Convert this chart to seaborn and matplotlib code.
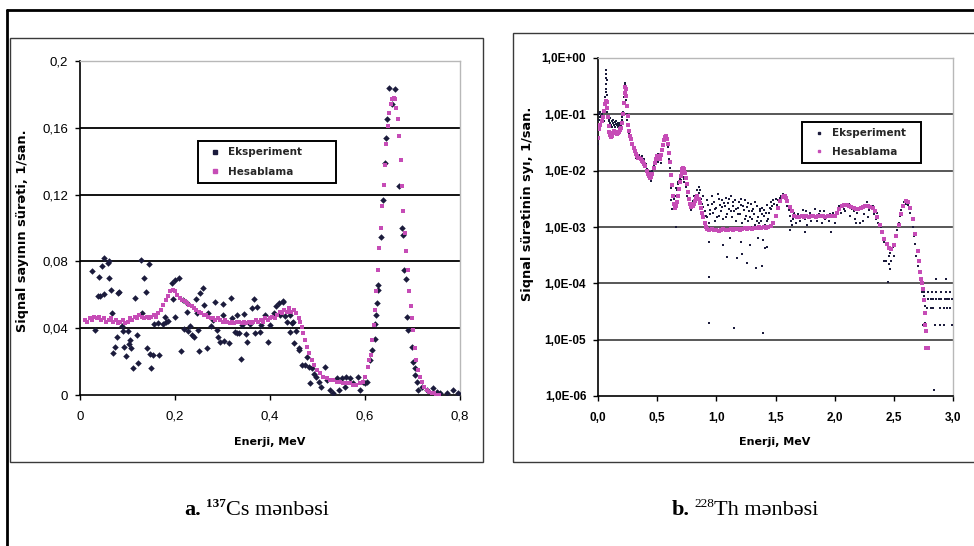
import matplotlib
matplotlib.use("Agg")
import matplotlib.pyplot as plt
import pandas as pd
import seaborn as sns
from matplotlib.lines import Line2D
from matplotlib.patches import Rectangle
from matplotlib.ticker import FixedFormatter, FixedLocator, NullLocator

sns.set_theme(style="white")
plt.rcParams["font.family"] = ["Liberation Sans", "DejaVu Sans"]

W, H = 974, 546
EXP_COLOR = "#1b1b3c"
CALC_COLOR = "#c64cb6"

# ---------------- a. Cs-137 (linear) ----------------
cs_exp = [
    (0.025, 0.0745), (0.032, 0.039), (0.037, 0.059), (0.039, 0.0705), (0.042, 0.0595),
    (0.046, 0.0774), (0.051, 0.0818), (0.051, 0.0603), (0.058, 0.0792), (0.060, 0.0699),
    (0.061, 0.080), (0.065, 0.0629), (0.067, 0.0493), (0.069, 0.025), (0.074, 0.029),
    (0.077, 0.035), (0.081, 0.061), (0.083, 0.0619), (0.088, 0.0413), (0.090, 0.0385),
    (0.093, 0.0287), (0.097, 0.0234), (0.100, 0.0385), (0.104, 0.0305), (0.106, 0.033),
    (0.107, 0.028), (0.112, 0.016), (0.116, 0.058), (0.121, 0.0359), (0.122, 0.0192),
    (0.128, 0.0808), (0.131, 0.0493), (0.135, 0.0699), (0.139, 0.0615), (0.142, 0.028),
    (0.145, 0.0784), (0.147, 0.0245), (0.149, 0.016), (0.154, 0.024), (0.156, 0.0425),
    (0.165, 0.0433), (0.167, 0.024), (0.175, 0.0425), (0.179, 0.0465), (0.181, 0.0439),
    (0.186, 0.0445), (0.193, 0.0669), (0.196, 0.0575), (0.200, 0.0689), (0.200, 0.0469),
    (0.209, 0.0699), (0.213, 0.0265), (0.216, 0.057), (0.219, 0.0395), (0.225, 0.0495),
    (0.225, 0.0553), (0.227, 0.0383), (0.232, 0.0413), (0.235, 0.0359), (0.240, 0.0349),
    (0.244, 0.0575), (0.246, 0.0493), (0.249, 0.0389), (0.251, 0.0265), (0.253, 0.0609),
    (0.258, 0.0639), (0.262, 0.0539), (0.267, 0.0279), (0.269, 0.0489), (0.275, 0.0413),
    (0.281, 0.0449), (0.284, 0.0559), (0.288, 0.0389), (0.291, 0.0349), (0.295, 0.0319),
    (0.300, 0.0543), (0.302, 0.0479), (0.304, 0.0325), (0.314, 0.0309), (0.317, 0.0583),
    (0.321, 0.0459), (0.326, 0.0375), (0.330, 0.0479), (0.331, 0.0369), (0.335, 0.0369),
    (0.338, 0.0216), (0.342, 0.0419), (0.345, 0.0485), (0.349, 0.0365), (0.352, 0.0319),
    (0.358, 0.0423), (0.363, 0.0519), (0.366, 0.0575), (0.368, 0.0373), (0.372, 0.0529),
    (0.378, 0.0379), (0.380, 0.0419), (0.389, 0.0479), (0.395, 0.0319), (0.400, 0.0419),
    (0.408, 0.0489), (0.413, 0.0533), (0.418, 0.0549), (0.422, 0.0479), (0.427, 0.0559),
    (0.428, 0.0565), (0.432, 0.0473), (0.436, 0.0439), (0.442, 0.0379), (0.442, 0.048),
    (0.446, 0.0433), (0.448, 0.0439), (0.451, 0.0309), (0.455, 0.0385), (0.460, 0.0279),
    (0.462, 0.027), (0.467, 0.018), (0.474, 0.018), (0.477, 0.0226), (0.483, 0.017),
    (0.484, 0.0074), (0.488, 0.016), (0.493, 0.0126), (0.497, 0.0106), (0.504, 0.008),
    (0.507, 0.0046), (0.516, 0.0166), (0.519, 0.009), (0.526, 0.003), (0.533, 0.001),
    (0.540, 0.010), (0.546, 0.003), (0.551, 0.010), (0.558, 0.005), (0.561, 0.0106),
    (0.568, 0.010), (0.575, 0.007), (0.586, 0.011), (0.589, 0.003), (0.595, 0.008),
    (0.600, 0.007), (0.605, 0.008), (0.611, 0.021), (0.614, 0.027), (0.620, 0.0333),
    (0.620, 0.0425), (0.623, 0.048), (0.625, 0.0553), (0.628, 0.0629), (0.628, 0.0659),
    (0.634, 0.0944), (0.637, 0.117), (0.642, 0.139), (0.644, 0.154), (0.647, 0.165),
    (0.651, 0.184), (0.657, 0.174), (0.663, 0.183), (0.672, 0.125), (0.677, 0.100),
    (0.681, 0.096), (0.682, 0.0749), (0.686, 0.0693), (0.689, 0.0469), (0.691, 0.0389),
    (0.698, 0.0289), (0.702, 0.020), (0.705, 0.016), (0.705, 0.012), (0.709, 0.008),
    (0.712, 0.003), (0.719, 0.005), (0.730, 0.003), (0.744, 0.004), (0.751, 0.002),
    (0.758, 0.001), (0.772, 0.0014), (0.786, 0.003), (0.796, 0.001),
]

cs_calc = [
    (0.010, 0.045), (0.015, 0.044), (0.020, 0.046), (0.025, 0.045), (0.030, 0.047),
    (0.035, 0.046), (0.040, 0.047), (0.045, 0.045), (0.050, 0.046), (0.055, 0.044),
    (0.060, 0.045), (0.065, 0.046), (0.070, 0.044), (0.075, 0.045), (0.080, 0.043),
    (0.085, 0.044), (0.090, 0.045), (0.095, 0.043), (0.100, 0.044), (0.105, 0.046),
    (0.110, 0.045), (0.115, 0.047), (0.120, 0.046), (0.125, 0.048), (0.130, 0.047),
    (0.135, 0.046), (0.140, 0.047), (0.145, 0.046), (0.150, 0.047), (0.155, 0.048),
    (0.160, 0.047), (0.165, 0.049), (0.170, 0.051), (0.175, 0.054), (0.180, 0.057),
    (0.185, 0.059), (0.190, 0.062), (0.195, 0.063), (0.200, 0.062), (0.205, 0.060),
    (0.210, 0.058), (0.215, 0.057), (0.220, 0.056), (0.225, 0.055), (0.230, 0.054),
    (0.235, 0.053), (0.240, 0.052), (0.245, 0.051), (0.250, 0.050), (0.255, 0.049),
    (0.260, 0.048), (0.265, 0.048), (0.270, 0.047), (0.275, 0.046), (0.280, 0.046),
    (0.285, 0.045), (0.290, 0.046), (0.295, 0.045), (0.300, 0.044), (0.305, 0.045),
    (0.310, 0.044), (0.315, 0.043), (0.320, 0.044), (0.325, 0.043), (0.330, 0.044),
    (0.335, 0.044), (0.340, 0.043), (0.345, 0.044), (0.350, 0.043), (0.355, 0.044),
    (0.360, 0.043), (0.365, 0.044), (0.370, 0.045), (0.375, 0.044), (0.380, 0.045),
    (0.385, 0.044), (0.390, 0.046), (0.395, 0.045), (0.400, 0.046), (0.405, 0.047),
    (0.410, 0.046), (0.415, 0.048), (0.420, 0.050), (0.425, 0.049), (0.430, 0.051),
    (0.435, 0.050), (0.440, 0.052), (0.445, 0.050), (0.450, 0.051), (0.455, 0.049),
    (0.460, 0.046), (0.463, 0.044), (0.467, 0.041), (0.470, 0.037), (0.474, 0.033),
    (0.477, 0.029), (0.482, 0.025), (0.488, 0.021), (0.493, 0.018), (0.498, 0.015),
    (0.505, 0.013), (0.512, 0.011), (0.519, 0.010), (0.526, 0.009), (0.533, 0.009),
    (0.540, 0.008), (0.547, 0.008), (0.554, 0.007), (0.561, 0.007), (0.568, 0.007),
    (0.575, 0.006), (0.582, 0.006), (0.589, 0.007), (0.596, 0.008), (0.601, 0.011),
    (0.606, 0.017), (0.609, 0.021), (0.612, 0.024), (0.615, 0.033), (0.618, 0.042),
    (0.621, 0.051), (0.624, 0.062), (0.627, 0.075), (0.630, 0.088), (0.633, 0.100),
    (0.636, 0.113), (0.639, 0.126), (0.642, 0.138), (0.645, 0.150), (0.648, 0.161),
    (0.651, 0.169), (0.654, 0.174), (0.657, 0.177), (0.660, 0.178), (0.663, 0.177),
    (0.666, 0.172), (0.669, 0.165), (0.672, 0.155), (0.675, 0.141), (0.678, 0.125),
    (0.681, 0.110), (0.684, 0.097), (0.687, 0.086), (0.690, 0.075), (0.693, 0.062),
    (0.696, 0.053), (0.699, 0.046), (0.702, 0.039), (0.705, 0.028), (0.708, 0.021),
    (0.712, 0.015), (0.716, 0.011), (0.720, 0.008), (0.725, 0.005), (0.730, 0.003),
    (0.735, 0.002), (0.740, 0.001), (0.745, 0.001), (0.750, 0.000), (0.755, 0.000),
]

cs_xticks = [0, 0.2, 0.4, 0.6, 0.8]
cs_xlabels = ["0", "0,2", "0,4", "0,6", "0,8"]
cs_yticks = [0, 0.04, 0.08, 0.12, 0.16, 0.2]
cs_ylabels = ["0", "0,04", "0,08", "0,12", "0,16", "0,2"]
cs_grid = [0.04, 0.08, 0.12, 0.16]

# ---------------- b. Th-228 (log) ----------------
th_exp_low = [
    (0.000, 0.030), (0.005, 0.080), (0.010, 0.100), (0.015, 0.090), (0.020, 0.110),
    (0.025, 0.095), (0.030, 0.085), (0.035, 0.100), (0.040, 0.080), (0.045, 0.090),
    (0.050, 0.075), (0.055, 0.120), (0.060, 0.200), (0.064, 0.280), (0.066, 0.450),
    (0.068, 0.600), (0.068, 0.350), (0.070, 0.520), (0.070, 0.250), (0.072, 0.400),
    (0.074, 0.220), (0.076, 0.160), (0.078, 0.130), (0.080, 0.110), (0.085, 0.090),
    (0.090, 0.075), (0.095, 0.080), (0.100, 0.070), (0.105, 0.085), (0.110, 0.065),
    (0.115, 0.075), (0.120, 0.060), (0.125, 0.070), (0.130, 0.080), (0.135, 0.065),
    (0.140, 0.072), (0.145, 0.060), (0.150, 0.068), (0.155, 0.075), (0.160, 0.065),
    (0.165, 0.070), (0.170, 0.060), (0.175, 0.065), (0.180, 0.070), (0.185, 0.062),
    (0.190, 0.070), (0.195, 0.065), (0.200, 0.080), (0.205, 0.090), (0.210, 0.110),
    (0.215, 0.150), (0.220, 0.200), (0.224, 0.260), (0.226, 0.330), (0.228, 0.360),
    (0.230, 0.300), (0.232, 0.240), (0.235, 0.180), (0.238, 0.140), (0.242, 0.100),
    (0.245, 0.080), (0.250, 0.062), (0.255, 0.052), (0.260, 0.046), (0.265, 0.042),
]

th_exp_mid = [
    (0.270, 0.040), (0.280, 0.036), (0.285, 0.030), (0.290, 0.031), (0.300, 0.025),
    (0.305, 0.022), (0.310, 0.021), (0.320, 0.019), (0.325, 0.017), (0.330, 0.020),
    (0.340, 0.016), (0.345, 0.018), (0.350, 0.019), (0.360, 0.015), (0.365, 0.017),
    (0.370, 0.018), (0.380, 0.013), (0.385, 0.016), (0.390, 0.015), (0.400, 0.012),
    (0.405, 0.013), (0.410, 0.0105), (0.420, 0.0085), (0.425, 0.009), (0.430, 0.0075),
    (0.440, 0.0095), (0.445, 0.0065), (0.450, 0.0072), (0.460, 0.0100), (0.470, 0.0120),
    (0.475, 0.0110), (0.480, 0.0150), (0.490, 0.0175), (0.500, 0.0160), (0.505, 0.0140),
    (0.510, 0.0200), (0.520, 0.0170), (0.530, 0.0135), (0.540, 0.0220), (0.550, 0.0300),
    (0.560, 0.0360), (0.570, 0.0390), (0.580, 0.0360), (0.590, 0.0260), (0.600, 0.0160),
    (0.605, 0.0110), (0.610, 0.0080), (0.615, 0.0050), (0.620, 0.0030), (0.625, 0.0021),
    (0.630, 0.0026), (0.640, 0.0031), (0.650, 0.0036), (0.655, 0.0010), (0.660, 0.0050),
    (0.670, 0.0046), (0.675, 0.0058), (0.680, 0.0062), (0.690, 0.0072), (0.695, 0.0060),
    (0.700, 0.0068), (0.710, 0.0082), (0.720, 0.0078), (0.725, 0.0070), (0.730, 0.0062),
    (0.740, 0.0052), (0.750, 0.0041), (0.755, 0.0035), (0.760, 0.0031), (0.770, 0.0026),
    (0.780, 0.0031), (0.785, 0.0022), (0.790, 0.0020), (0.800, 0.0029), (0.810, 0.0036),
    (0.815, 0.0027), (0.820, 0.0025), (0.830, 0.0031), (0.840, 0.0046), (0.850, 0.0052),
    (0.855, 0.0040), (0.860, 0.0046), (0.870, 0.0031), (0.880, 0.0026), (0.885, 0.0035),
    (0.890, 0.0023), (0.900, 0.0019), (0.910, 0.0016),
]

th_exp_plateau = [
    (0.920, 0.0015), (0.925, 0.0030), (0.930, 0.0025), (0.940, 0.0012), (0.945, 0.0017),
    (0.950, 0.0020), (0.960, 0.0035), (0.965, 0.0026), (0.970, 0.0018), (0.980, 0.0028),
    (0.985, 0.0021), (0.990, 0.0013), (1.000, 0.0022), (1.005, 0.0015), (1.010, 0.0038),
    (1.020, 0.0016), (1.025, 0.0031), (1.030, 0.0025), (1.040, 0.0019), (1.045, 0.0023),
    (1.050, 0.0030), (1.060, 0.0014), (1.065, 0.0027), (1.070, 0.0024), (1.080, 0.0033),
    (1.085, 0.0015), (1.090, 0.0017), (1.100, 0.0027), (1.105, 0.0032), (1.110, 0.0021),
    (1.120, 0.0036), (1.125, 0.0019), (1.130, 0.0015), (1.140, 0.0024), (1.145, 0.0028),
    (1.150, 0.0019), (1.160, 0.0030), (1.165, 0.0021), (1.170, 0.0013), (1.180, 0.0022),
    (1.185, 0.0017), (1.190, 0.0028), (1.200, 0.0017), (1.205, 0.0031), (1.210, 0.0025),
    (1.220, 0.0012), (1.225, 0.0024), (1.230, 0.0020), (1.240, 0.0030), (1.245, 0.0014),
    (1.250, 0.0016), (1.260, 0.0023), (1.265, 0.0027), (1.270, 0.0013), (1.280, 0.0019),
    (1.285, 0.0015), (1.290, 0.0026), (1.300, 0.0014), (1.305, 0.0019), (1.310, 0.0021),
    (1.320, 0.0017), (1.325, 0.0028), (1.330, 0.0011), (1.340, 0.0024), (1.345, 0.0013),
    (1.350, 0.0015), (1.360, 0.0012), (1.365, 0.0021), (1.370, 0.0019), (1.380, 0.0013),
    (1.385, 0.0017), (1.390, 0.0022), (1.400, 0.0016), (1.405, 0.0020), (1.410, 0.0011),
    (1.420, 0.0018), (1.425, 0.0013), (1.430, 0.0025), (1.440, 0.0014), (1.445, 0.0018),
    (1.450, 0.0022), (1.460, 0.0028), (1.465, 0.0021), (1.470, 0.0024), (1.480, 0.0030),
    (1.490, 0.0026), (1.500, 0.0032),
    (0.941, 0.00055), (1.059, 0.00047), (1.088, 0.00029), (1.115, 0.00063), (1.172, 0.00028),
    (1.206, 0.00055), (1.214, 0.00033), (1.262, 0.00023), (1.284, 0.00048), (1.335, 0.00019),
    (1.350, 0.00065), (1.383, 0.00020), (1.397, 0.00059), (1.411, 0.00043), (1.425, 0.00044),
    (0.941, 0.000129), (0.941, 0.0000195), (1.149, 0.000016), (1.392, 0.000013),
]

th_exp_high = [
    (1.510, 0.0025), (1.520, 0.0030), (1.530, 0.0028), (1.540, 0.0033), (1.550, 0.0035),
    (1.560, 0.0038), (1.570, 0.0036), (1.580, 0.0032), (1.590, 0.0028), (1.600, 0.0024),
    (1.610, 0.0020), (1.620, 0.0016), (1.620, 0.0009), (1.630, 0.0013), (1.640, 0.0011),
    (1.650, 0.0014), (1.660, 0.0018), (1.670, 0.0012), (1.680, 0.0015), (1.690, 0.0017),
    (1.710, 0.0013), (1.720, 0.0016), (1.730, 0.0020), (1.750, 0.0014), (1.750, 0.0008),
    (1.760, 0.0019), (1.770, 0.0011), (1.790, 0.0018), (1.800, 0.0013), (1.810, 0.0015),
    (1.830, 0.0021), (1.840, 0.0016), (1.850, 0.0013), (1.870, 0.0017), (1.880, 0.0019),
    (1.890, 0.0012), (1.910, 0.0019), (1.920, 0.0014), (1.930, 0.0016), (1.950, 0.0013),
    (1.960, 0.0017), (1.970, 0.0008), (1.990, 0.0018), (2.000, 0.0012), (2.010, 0.0015),
    (2.030, 0.0021), (2.040, 0.0024), (2.050, 0.0018), (2.070, 0.0025), (2.080, 0.0021),
    (2.090, 0.0019), (2.110, 0.0023), (2.120, 0.0026), (2.130, 0.0016), (2.150, 0.0021),
    (2.160, 0.0019), (2.170, 0.0014), (2.180, 0.0012), (2.190, 0.0018), (2.200, 0.0022),
    (2.210, 0.0012), (2.230, 0.0024), (2.240, 0.0013), (2.250, 0.0017), (2.270, 0.0028),
    (2.280, 0.0015), (2.290, 0.0020), (2.310, 0.0022), (2.320, 0.0024), (2.330, 0.0017),
    (2.350, 0.0014), (2.360, 0.0018), (2.370, 0.0012), (2.390, 0.0010),
    (2.400, 0.0008), (2.410, 0.00065), (2.420, 0.00055), (2.420, 0.00025), (2.430, 0.00025),
    (2.440, 0.0005), (2.450, 0.0004), (2.450, 0.000107), (2.460, 0.0003), (2.460, 0.00022),
    (2.470, 0.00035), (2.470, 0.00018), (2.480, 0.00025), (2.490, 0.00045), (2.500, 0.0003),
    (2.510, 0.0005), (2.520, 0.0007), (2.530, 0.0009), (2.540, 0.0012), (2.550, 0.0016),
    (2.560, 0.0020), (2.570, 0.0023), (2.580, 0.0025), (2.590, 0.0028), (2.600, 0.0026),
    (2.610, 0.0029), (2.620, 0.0025), (2.630, 0.0022), (2.640, 0.0018), (2.650, 0.0014),
    (2.660, 0.0010), (2.670, 0.0007), (2.680, 0.0005), (2.690, 0.0003), (2.700, 0.0002),
    (2.710, 0.00015), (2.720, 0.00012), (2.730, 0.0001), (2.740, 0.00008),
]

th_exp_tail = [
    (2.750, 0.00008), (2.755, 0.00006), (2.760, 0.00004), (2.760, 0.00002), (2.765, 0.000015),
    (2.735, 0.000069), (2.757, 0.000069), (2.790, 0.000069), (2.826, 0.000069), (2.854, 0.000069),
    (2.900, 0.000069), (2.940, 0.000069), (2.975, 0.000069),
    (2.765, 0.000052), (2.790, 0.000052), (2.810, 0.000052), (2.830, 0.000052), (2.860, 0.000052),
    (2.880, 0.000052), (2.900, 0.000052), (2.930, 0.000052), (2.950, 0.000052), (2.970, 0.000052),
    (2.990, 0.000052),
    (2.780, 0.000036), (2.810, 0.000036), (2.835, 0.000036), (2.890, 0.000036), (2.920, 0.000036),
    (2.950, 0.000036), (2.975, 0.000036),
    (2.750, 0.000018), (2.770, 0.000018), (2.850, 0.000018), (2.890, 0.000018), (2.920, 0.000018),
    (2.990, 0.000018),
    (2.860, 0.000118), (2.940, 0.000118), (2.840, 0.0000013),
]

th_calc = [
    (0.000, 0.038), (0.010, 0.055), (0.020, 0.065), (0.030, 0.075), (0.040, 0.090),
    (0.050, 0.115), (0.058, 0.155), (0.065, 0.175), (0.072, 0.165), (0.078, 0.130),
    (0.084, 0.090), (0.090, 0.062), (0.096, 0.048), (0.102, 0.043), (0.110, 0.040),
    (0.118, 0.042), (0.126, 0.046), (0.134, 0.050), (0.142, 0.049), (0.150, 0.046),
    (0.158, 0.044), (0.166, 0.046), (0.174, 0.049), (0.182, 0.052), (0.190, 0.055),
    (0.198, 0.058), (0.205, 0.070), (0.212, 0.100), (0.218, 0.160), (0.224, 0.240),
    (0.229, 0.300), (0.234, 0.280), (0.239, 0.210), (0.244, 0.140), (0.250, 0.095),
    (0.256, 0.065), (0.262, 0.050), (0.270, 0.042), (0.280, 0.036), (0.290, 0.030),
    (0.300, 0.025), (0.310, 0.022), (0.320, 0.020), (0.330, 0.018), (0.340, 0.017),
    (0.350, 0.017), (0.360, 0.016), (0.370, 0.015), (0.380, 0.014), (0.390, 0.013),
    (0.400, 0.012), (0.410, 0.010), (0.420, 0.0088), (0.430, 0.0080), (0.440, 0.0074),
    (0.450, 0.0076), (0.460, 0.0088), (0.470, 0.011), (0.480, 0.0135), (0.490, 0.016),
    (0.500, 0.018), (0.510, 0.017), (0.520, 0.0158), (0.530, 0.019), (0.540, 0.023),
    (0.550, 0.029), (0.560, 0.035), (0.570, 0.040), (0.578, 0.041), (0.586, 0.037),
    (0.594, 0.030), (0.602, 0.021), (0.610, 0.014), (0.618, 0.0085), (0.626, 0.0055),
    (0.634, 0.0035), (0.642, 0.0026), (0.650, 0.0022), (0.658, 0.0024), (0.666, 0.0028),
    (0.674, 0.0036), (0.682, 0.0048), (0.690, 0.0063), (0.698, 0.0080), (0.706, 0.0096),
    (0.714, 0.0108), (0.722, 0.0112), (0.730, 0.0105), (0.738, 0.0092), (0.746, 0.0075),
    (0.754, 0.0058), (0.762, 0.0042), (0.770, 0.0032), (0.780, 0.0026), (0.790, 0.0023),
    (0.800, 0.0024), (0.810, 0.0026), (0.820, 0.0029), (0.830, 0.0033), (0.840, 0.0035),
    (0.850, 0.0032), (0.860, 0.0027), (0.870, 0.0022), (0.880, 0.0018), (0.890, 0.0015),
    (0.900, 0.0012), (0.910, 0.0010), (0.920, 0.00092), (0.940, 0.00088), (0.960, 0.00091),
    (0.980, 0.00087), (1.000, 0.00090), (1.020, 0.00086), (1.040, 0.00089), (1.060, 0.00092),
    (1.080, 0.00088), (1.100, 0.00090), (1.120, 0.00093), (1.140, 0.00089), (1.160, 0.00091),
    (1.180, 0.00094), (1.200, 0.00090), (1.220, 0.00092), (1.240, 0.00095), (1.260, 0.00093),
    (1.280, 0.00096), (1.300, 0.00094), (1.320, 0.00097), (1.340, 0.00095), (1.360, 0.00098),
    (1.380, 0.00096), (1.400, 0.00099), (1.420, 0.00097), (1.440, 0.00100), (1.460, 0.00105),
    (1.480, 0.0012), (1.500, 0.0016), (1.520, 0.0022), (1.540, 0.0029), (1.560, 0.0034),
    (1.570, 0.0036), (1.580, 0.0036), (1.590, 0.0033), (1.600, 0.0029), (1.620, 0.0023),
    (1.640, 0.0019), (1.660, 0.0016), (1.680, 0.0015), (1.700, 0.0015), (1.720, 0.00155),
    (1.740, 0.0015), (1.760, 0.00158), (1.780, 0.0015), (1.800, 0.00155), (1.820, 0.0016),
    (1.840, 0.0015), (1.860, 0.00156), (1.880, 0.0016), (1.900, 0.00155), (1.920, 0.0015),
    (1.940, 0.00158), (1.960, 0.0016), (1.980, 0.00155), (2.000, 0.0016), (2.020, 0.0018),
    (2.040, 0.0021), (2.060, 0.0024), (2.080, 0.0025), (2.100, 0.0025), (2.120, 0.0024),
    (2.140, 0.0023), (2.160, 0.0022), (2.180, 0.0021), (2.200, 0.0021), (2.220, 0.0022),
    (2.240, 0.0023), (2.260, 0.0024), (2.280, 0.0024), (2.300, 0.0023), (2.320, 0.0022),
    (2.340, 0.0019), (2.360, 0.0015), (2.380, 0.0011), (2.400, 0.00082), (2.420, 0.00062),
    (2.440, 0.00050), (2.460, 0.00042), (2.480, 0.00040), (2.500, 0.00048), (2.520, 0.00070),
    (2.540, 0.0011), (2.560, 0.0017), (2.580, 0.0024), (2.600, 0.0029), (2.620, 0.0028),
    (2.640, 0.0022), (2.660, 0.0014), (2.680, 0.00075), (2.700, 0.00038), (2.710, 0.00025),
    (2.720, 0.00016), (2.730, 0.00012), (2.740, 0.00010), (2.750, 0.00008), (2.755, 0.00005),
    (2.760, 0.00003), (2.765, 0.000018), (2.770, 0.000014), (2.775, 0.0000072), (2.790, 0.0000072),
]

th_xticks = [0, 0.5, 1.0, 1.5, 2.0, 2.5, 3.0]
th_xlabels = ["0,0", "0,5", "1,0", "1,5", "2,0", "2,5", "3,0"]
th_yticks = [1e-6, 1e-5, 1e-4, 1e-3, 1e-2, 1e-1, 1e0]
th_ylabels = ["1,0E-06", "1,0E-05", "1,0E-04", "1,0E-03", "1,0E-02", "1,0E-01", "1,0E+00"]
th_grid = [1e-5, 1e-4, 1e-3, 1e-2, 1e-1]

series_names = ["Eksperiment", "Hesablama"]


def fx(x):
    return x / W


def fy(y):
    return 1 - y / H


def frame(df_pairs):
    return pd.DataFrame(df_pairs, columns=["energy", "rate"])


def style_axes(ax, xticks, xlabels, yticks, ylabels, grid, grid_color, bold):
    for side in ("top", "right"):
        ax.spines[side].set_color("#b8b8b8")
        ax.spines[side].set_linewidth(1)
    for side in ("left", "bottom"):
        ax.spines[side].set_color("black")
        ax.spines[side].set_linewidth(1.2)
    ax.xaxis.set_major_locator(FixedLocator(xticks))
    ax.xaxis.set_major_formatter(FixedFormatter(xlabels))
    ax.yaxis.set_major_locator(FixedLocator(yticks))
    ax.yaxis.set_major_formatter(FixedFormatter(ylabels))
    ax.yaxis.set_minor_locator(NullLocator())
    ax.tick_params(axis="both", which="major", direction="out", length=3.5, width=1,
                   color="black", bottom=True, left=True, labelsize=9.5 if not bold else 8.5,
                   labelcolor="black")
    ax.tick_params(axis="x", pad=8)
    ax.tick_params(axis="y", pad=5)
    for lab in ax.get_xticklabels() + ax.get_yticklabels():
        lab.set_fontweight("bold" if bold else "normal")
    for g in grid:
        ax.axhline(g, color=grid_color, lw=1.3, zorder=0.5)
    ax.set_xlabel("")
    ax.set_ylabel("")
    ax.set_facecolor("white")


def add_legend(ax, x0, y0, width, height, ms, spacing):
    handles = [
        Line2D([], [], ls="none", marker="s", ms=ms, color=EXP_COLOR),
        Line2D([], [], ls="none", marker="s", ms=ms, color=CALC_COLOR),
    ]
    # bbox given as (left, bottom, width, height) in figure fraction
    leg = ax.legend(handles, series_names, loc="upper left",
                    bbox_to_anchor=(fx(x0), fy(y0 + height), width / W, height / H),
                    bbox_transform=ax.figure.transFigure, mode="expand",
                    frameon=True, fancybox=False, framealpha=1, edgecolor="black",
                    prop={"family": "DejaVu Sans", "weight": "bold", "size": 7.5},
                    handlelength=2.0, handletextpad=0.3, borderpad=0.6,
                    labelspacing=spacing, borderaxespad=0)
    leg.get_frame().set_linewidth(1.4)
    return leg


fig = plt.figure(figsize=(W / 100, H / 100), dpi=100)
fig.patch.set_facecolor("white")

# outer frame and panel boxes
fig.add_artist(Line2D([fx(7), fx(7)], [fy(10), fy(546)], color="black", lw=2))
fig.add_artist(Line2D([fx(7), 1.0], [fy(10), fy(10)], color="black", lw=2))
fig.add_artist(Rectangle((fx(10), fy(462)), (483 - 10) / W, (462 - 38) / H,
                         fill=False, ec="#3a3a3a", lw=1))
fig.add_artist(Rectangle((fx(513), fy(462)), (990 - 513) / W, (462 - 33) / H,
                         fill=False, ec="#3a3a3a", lw=1))

# ---- panel a ----
ax1 = fig.add_axes([fx(80), fy(395), 380 / W, 334 / H])
sns.scatterplot(data=frame(cs_exp), x="energy", y="rate", ax=ax1, marker="D", s=11,
                color=EXP_COLOR, linewidth=0, legend=False, zorder=3)
sns.scatterplot(data=frame(cs_calc), x="energy", y="rate", ax=ax1, marker="s", s=9,
                color=CALC_COLOR, linewidth=0, legend=False, zorder=4)
ax1.set_xlim(0, 0.8)
ax1.set_ylim(0, 0.2)
style_axes(ax1, cs_xticks, cs_xlabels, cs_yticks, cs_ylabels, cs_grid, "black", False)
add_legend(ax1, 198, 141, 138, 45, 2.2, 0.95)

# ---- panel b ----
ax2 = fig.add_axes([fx(598), fy(396), 355 / W, 338 / H])
th_exp = th_exp_low + th_exp_mid + th_exp_plateau + th_exp_high + th_exp_tail
sns.scatterplot(data=frame(th_exp), x="energy", y="rate", ax=ax2, marker="s", s=3.5,
                color=EXP_COLOR, linewidth=0, legend=False, zorder=3)
sns.scatterplot(data=frame(th_calc), x="energy", y="rate", ax=ax2, marker="s", s=6,
                color=CALC_COLOR, linewidth=0, legend=False, zorder=4)
ax2.set_yscale("log")
ax2.set_xlim(0, 3.0)
ax2.set_ylim(1e-6, 1.0)
style_axes(ax2, th_xticks, th_xlabels, th_yticks, th_ylabels, th_grid, "#4a4a4a", True)
add_legend(ax2, 802, 122, 119, 43, 1.8, 0.8)

# axis titles
lab_kw = dict(family="DejaVu Sans", fontweight="bold", color="black")
fig.text(fx(270), fy(442), "Enerji, MeV", ha="center", va="center", fontsize=8, **lab_kw)
fig.text(fx(775), fy(442), "Enerji, MeV", ha="center", va="center", fontsize=8, **lab_kw)
fig.text(fx(23), fy(231), "Siqnal sayının sürəti, 1/san.", rotation=90,
         ha="center", va="center", fontsize=9.3, **lab_kw)
fig.text(fx(528), fy(204), "Siqnal sürətinin syı, 1/san.", rotation=90,
         ha="center", va="center", fontsize=9.3, **lab_kw)

# captions with superscript mass numbers
renderer = fig.canvas.get_renderer()
serif = ["Liberation Serif", "DejaVu Serif"]


def caption(x_center, baseline, pieces):
    placed = []
    for text, weight, size, rise, gap in pieces:
        t = fig.text(0, 0, text, fontsize=size, fontweight=weight, family=serif,
                     va="baseline", ha="left", color="black")
        placed.append((t, rise, gap))
    widths = [t.get_window_extent(renderer).width for t, _, _ in placed]
    total = sum(widths) + sum(g for _, _, g in placed)
    x = x_center - total / 2
    for (t, rise, gap), w in zip(placed, widths):
        x += gap
        t.set_position((fx(x), fy(baseline - rise)))
        x += w


caption(257, 515, [("a.", "bold", 16, 0, 0), ("137", "bold", 9.5, 8, 5),
                   ("Cs mənbəsi", "normal", 16, 0, 0)])
caption(745, 515, [("b.", "bold", 16, 0, 0), ("228", "normal", 9.5, 8, 5),
                   ("Th mənbəsi", "normal", 16, 0, 0)])

fig.savefig("out.png", dpi=100, facecolor="white")
